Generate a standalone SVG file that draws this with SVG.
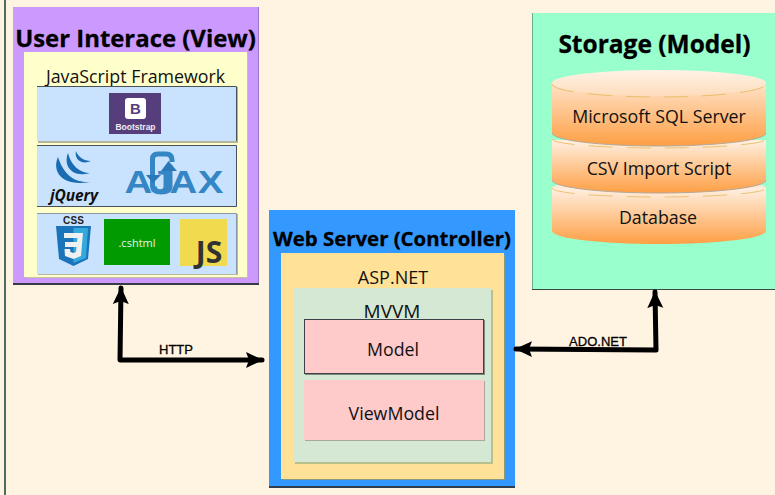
<svg xmlns="http://www.w3.org/2000/svg" width="775" height="495" viewBox="0 0 775 495">
<style>
text{font-family:"Open Sans","Noto Sans","DejaVu Sans",sans-serif;fill:#111;text-anchor:middle}
.h{font-size:23.900px;font-weight:700;fill:#000;stroke:#000;stroke-width:.3}
.t{font-size:17.800px}
.lbl{font-family:"Liberation Sans",sans-serif;font-size:13px;fill:#000;stroke:#000;stroke-width:.3}
.arial{font-family:"Liberation Sans",sans-serif;font-weight:700}
.blue{fill:#c9e3fe}
.wire{fill:none;stroke:#000;stroke-width:5;stroke-linejoin:round;stroke-linecap:round}
.pink{fill:#fecaca}
.edge{fill:none;stroke:#4a5058;stroke-width:1}
.dash{fill:none;stroke:#e3b95c;stroke-width:1;stroke-dasharray:24 14;opacity:.8}
.aj{fill:none;stroke:#3586c4;stroke-width:5}
</style>
<defs>
<linearGradient id="cyl" x1="0" y1="0" x2="0" y2="1"><stop offset="0" stop-color="#fff0e2"/><stop offset="1" stop-color="#fe9f44"/></linearGradient>
<linearGradient id="cylTop" x1="0" y1="0" x2="0" y2="1"><stop offset="0" stop-color="#fff3e7"/><stop offset="1" stop-color="#fedcbc"/></linearGradient>
<marker id="ah" markerUnits="userSpaceOnUse" markerWidth="20" markerHeight="20" refX="16" refY="9" orient="auto-start-reverse"><path d="M0 1L17 9L0 17L3 9Z" fill="#000"/></marker>
</defs>
<rect width="775" height="495" fill="#fff3e2"/>
<rect x="4" y="0" width="2" height="495" fill="#4d6e5f"/>

<g id="view">
<rect x="13" y="7" width="246" height="276" fill="#cc99ff"/>
<rect x="13" y="283" width="246" height="2" fill="#3a3a44"/>
<rect x="258" y="7" width="1" height="276" fill="#9a78c0"/>
<text class="h" x="135.500" y="47">User Interace (View)</text>
<rect x="26" y="54" width="222" height="224" fill="#c8c39a"/>
<rect x="24" y="52" width="223" height="225" fill="#ffffcc"/>
<text class="t" x="135.500" y="83">JavaScript Framework</text>
<g id="bootstrap-row">
<rect x="38" y="87" width="200" height="56" fill="#b4b49a"/>
<rect class="blue" x="37" y="86" width="200" height="55"/>
<path class="edge" d="M37 86.500H236.500V141"/>
<rect x="109" y="93" width="52" height="41" fill="#563d7c"/>
<rect x="125" y="98" width="21" height="21" rx="3" fill="#fff"/>
<text class="arial" x="135.500" y="114" font-size="15" style="fill:#563d7c">B</text>
<text class="arial" x="135.500" y="130" font-size="8.500" style="fill:#eee">Bootstrap</text>
</g>
<g id="jquery-ajax-row">
<rect class="blue" x="37" y="145" width="200" height="62"/>
<path class="edge" d="M37 145.500H236.500V206.500H37"/>
<g fill="#1a6cb2">
<path d="M58 157C52 170 60 187 90 182C72 183 63 172 58 157Z"/>
<path d="M68 153C63 166 72 178 90 173C79 173 71 165 68 153Z"/>
<path d="M76 151C74 160 82 165 91 161C84 161 78 157 76 151Z"/>
</g>
<text x="74" y="201" font-size="15.500" font-style="italic" font-weight="700" textLength="48" style="fill:#101010">jQuery</text>
<text class="arial" transform="scale(1.2 1)" x="115.400 134.200 152.900 175.400" y="193" font-size="32" style="fill:#3586c4">AJAX</text>
<path class="aj" d="M152.500 172V186Q152.500 192 161 192Q170 192 170 186V165"/>
<path class="aj" d="M152.500 172V159Q152.500 154 158 154H166Q172 154 172 160V162"/>
<path d="M146 175L153 183L161 175ZM161 171L168.500 161L177 171Z" fill="#2a78b8"/>
</g>
<g id="tech-row">
<rect x="38" y="214" width="200" height="61" fill="#b8b8a0"/>
<rect class="blue" x="37" y="213" width="200" height="61"/>
<path class="edge" d="M37 213.500H236.500V274" style="stroke:#8a98a4"/>
<text class="arial" x="73.500" y="224" font-size="10" textLength="21" style="fill:#222">CSS</text>
<path d="M56 226H91L88 259L73.500 266L59 259Z" fill="#1b73ba"/>
<path d="M73.500 228H88L86 258L73.500 263Z" fill="#33a9dc"/>
<path d="M64 233H83L81 256L73.500 259L65 256L64.500 249H70L70.500 252L73.500 253L76 252L76.500 247H65V242H77L77.500 238H64Z" fill="#f0f0f0"/>
<rect x="104" y="219" width="66" height="46" fill="#019a01"/>
<text x="137" y="247" font-size="11" style="fill:#e8f5e8">.cshtml</text>
<rect x="180" y="219" width="47" height="47" fill="#f0db4f"/>
<text x="209" y="263" font-size="30" font-weight="700" style="fill:#323330">JS</text>
</g>
</g>

<g id="server">
<rect x="269" y="210" width="246" height="276" fill="#3399ff"/>
<rect x="269" y="486" width="246" height="2" fill="#2e3d50"/>
<text class="h" x="392" y="246" style="font-size:20.400px">Web Server (Controller)</text>
<rect x="283" y="255" width="222" height="225" fill="#8a9a80"/>
<rect x="281" y="253" width="223" height="226" fill="#ffe197"/>
<text x="393" y="284" font-size="18">ASP.NET</text>
<rect x="295" y="290" width="198" height="174" fill="#b8c08e"/>
<rect x="293" y="288" width="198" height="174" fill="#d5e8d4"/>
<text x="392" y="318" font-size="19">MVVM</text>
<rect x="305" y="320" width="180" height="55" fill="#7e8a7a"/>
<rect class="pink" x="304.500" y="319.500" width="179" height="54" stroke="#3c4048"/>
<text class="t" x="393" y="356">Model</text>
<rect x="305" y="381" width="180" height="60" fill="#a8a8a0"/>
<rect class="pink" x="304" y="380" width="180" height="60"/>
<text class="t" x="394" y="420">ViewModel</text>
</g>

<g id="storage">
<rect x="532" y="13" width="243" height="277" fill="#99ffcc"/>
<rect x="532" y="13" width="1" height="277" fill="#6aae90"/>
<rect x="532" y="289" width="243" height="1" fill="#3c4a44"/>
<text class="h" x="654.500" y="53" style="font-size:24.500px">Storage (Model)</text>
<g id="db3">
<path d="M552 188V231A107 13 0 0 0 766 231V188Z" fill="url(#cyl)"/>
<path d="M552 188A107 9 0 0 1 766 188" fill="#ffe9d4"/>
<path class="dash" d="M552 188A107 9 0 0 0 766 188"/>
<text class="t" x="658" y="224">Database</text>
</g>
<g id="db2">
<path d="M552 140V180A107 13 0 0 0 766 180V140Z" fill="url(#cyl)"/>
<path class="dash" d="M552 139A107 9 0 0 0 766 139"/>
<path d="M552 180A107 13 0 0 0 766 180" fill="none" stroke="#b5a898" stroke-width="1"/>
<text class="t" x="659" y="175">CSV Import Script</text>
</g>
<g id="db1">
<path d="M552 84V133A107 13 0 0 0 766 133V84A107 13 0 0 0 552 84Z" fill="url(#cyl)"/>
<ellipse cx="659" cy="83" rx="107" ry="13" fill="url(#cylTop)"/>
<path class="dash" d="M552 84A107 13 0 0 0 766 84"/>
<path d="M552 133A107 13 0 0 0 766 133" fill="none" stroke="#b5a898" stroke-width="1"/>
<text class="t" x="659" y="123">Microsoft SQL Server</text>
</g>
</g>

<g id="connectors">
<path class="wire" d="M121 288L120 360H262" marker-start="url(#ah)" marker-end="url(#ah)"/>
<path class="wire" d="M655 292L656 350L516 349" marker-start="url(#ah)" marker-end="url(#ah)"/>
<text class="lbl" x="176" y="354">HTTP</text>
<text class="lbl" x="598" y="346">ADO.NET</text>
</g>
</svg>
